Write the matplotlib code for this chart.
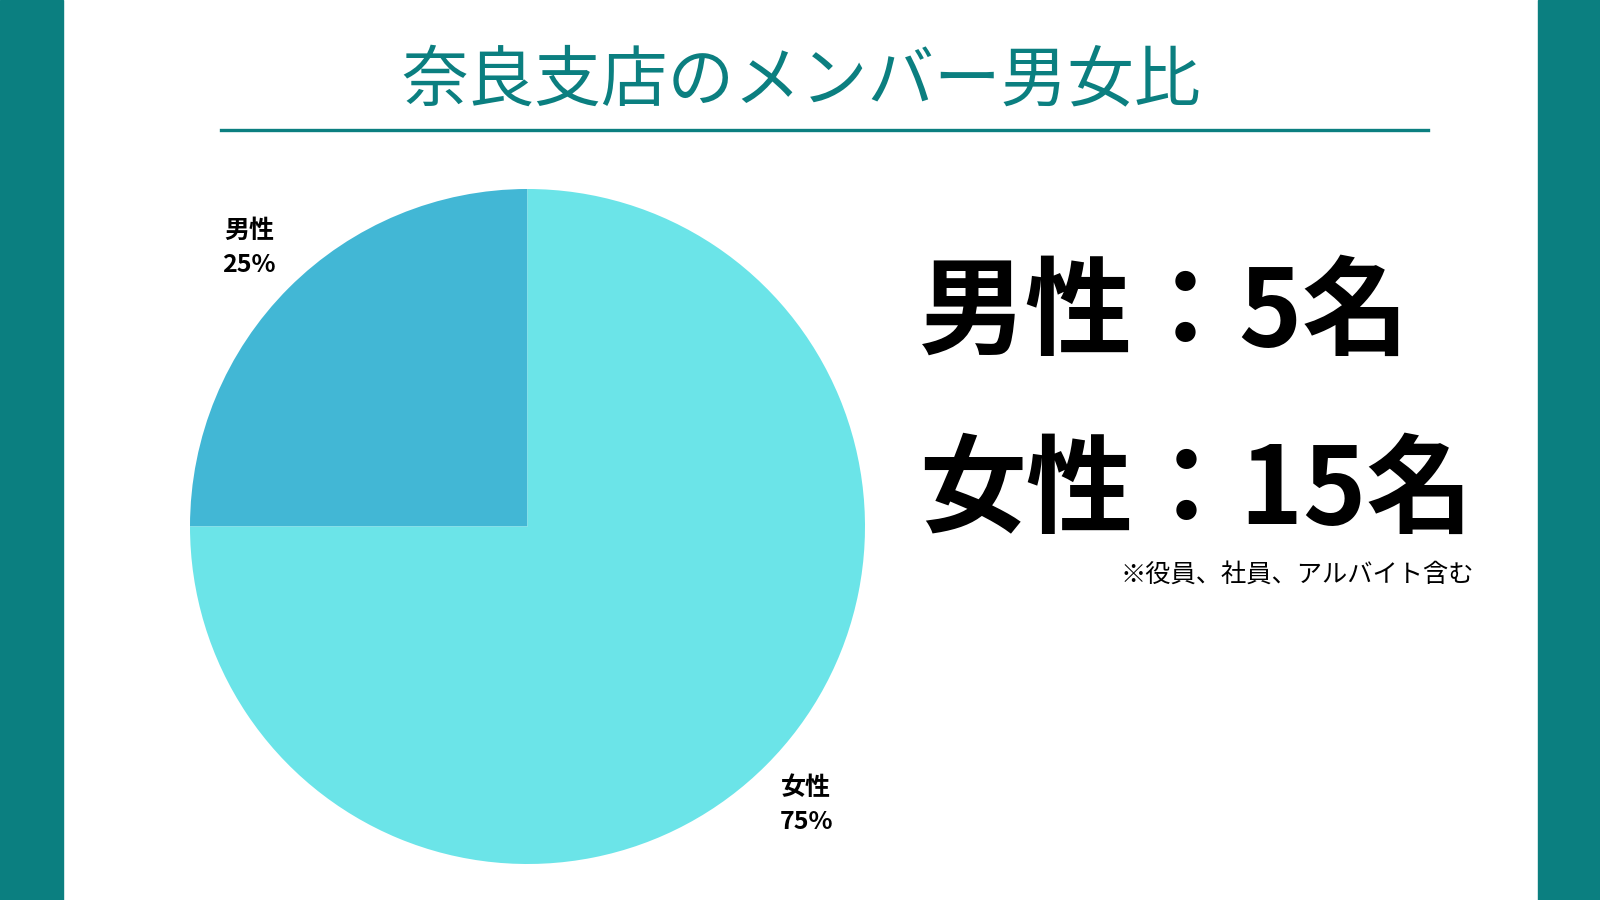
import matplotlib

matplotlib.use("Agg")
import matplotlib.pyplot as plt
from matplotlib.lines import Line2D
from matplotlib.patches import Rectangle

plt.rcParams["font.family"] = ["Noto Sans CJK JP", "DejaVu Sans"]

TITLE = "奈良支店のメンバー男女比"
GENDERS = ["男性", "女性"]
COUNTS = [5, 15]
WEDGE_COLORS = ["#42b7d5", "#6be4e8"]
NOTE = "※役員、社員、アルバイト含む"

TEAL = "#0b7f80"
W, H = 1600, 900


def px(x, y):
    # pixel coords measured from top-left -> figure fraction
    return x / W, 1 - y / H


fig = plt.figure(figsize=(16, 9), dpi=100)
fig.patch.set_facecolor("white")

# side bars
fig.patches.append(Rectangle((0, 0), 63 / W, 1, transform=fig.transFigure,
                             color=TEAL, zorder=0))
fig.patches.append(Rectangle((1538 / W, 0), (W - 1538) / W, 1,
                             transform=fig.transFigure, color=TEAL, zorder=0))

# title and rule
fig.text(*px(801, 83), TITLE, ha="center", va="center", fontsize=48,
         color=TEAL)
x0, y0 = px(221, 129.5)
x1, _ = px(1428, 129.5)
fig.add_artist(Line2D([x0, x1], [y0, y0], transform=fig.transFigure,
                      color=TEAL, linewidth=2.4))

# pie
cx, cy, r = 527.5, 526.5, 337.5
ax = fig.add_axes([(cx - r) / W, (H - cy - r) / H, 2 * r / W, 2 * r / H])
total = sum(COUNTS)
labels = [f"{g}\n{round(c / total * 100)}%" for g, c in zip(GENDERS, COUNTS)]
wedges, texts = ax.pie(COUNTS, colors=WEDGE_COLORS, startangle=90,
                       labels=labels, labeldistance=1.167,
                       textprops=dict(fontsize=18, fontweight="bold",
                                      ha="center", va="center",
                                      linespacing=1.55))
ax.set_xlim(-1, 1)
ax.set_ylim(-1, 1)
ax.set_aspect("equal")
ax.axis("off")

# big counts
for i, (g, c) in enumerate(zip(GENDERS, COUNTS)):
    fig.text(*px(919, 315 + i * 178), f"{g}：{c}名", ha="left", va="center",
             fontsize=77, fontweight="bold", color="black")

fig.text(*px(1474, 575), NOTE, ha="right", va="center", fontsize=18.2,
         color="black")

fig.savefig("out.png", dpi=100)
